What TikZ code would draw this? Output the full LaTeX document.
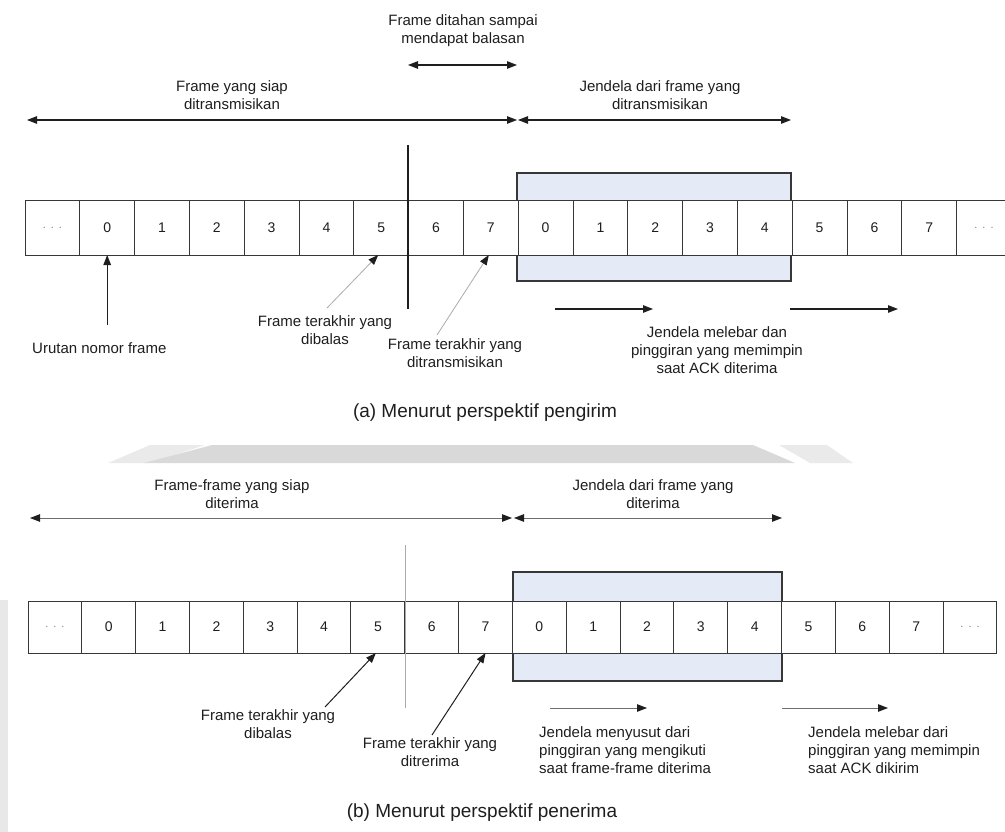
\documentclass[tikz,border=0pt]{standalone}
\usepackage{fontspec}
\setmainfont{Liberation Sans}
\usetikzlibrary{arrows.meta,calc}
\definecolor{winblue}{RGB}{228,235,246}
\definecolor{ink}{RGB}{30,30,30}
\definecolor{edge}{RGB}{55,55,55}
\definecolor{softline}{RGB}{170,170,170}
\definecolor{midline}{RGB}{110,110,110}
\definecolor{bandgrey}{RGB}{217,217,217}
\newcommand{\dotcell}{\textcolor{gray}{\fontsize{11}{12}\selectfont .\hspace{5pt}.\hspace{5pt}.}}
\begin{document}
\begin{tikzpicture}[x=1pt,y=-1pt,
  tip/.style={-{Triangle[length=10pt,width=7.5pt,color=ink]}},
  twotip/.style={{Triangle[length=10pt,width=7.5pt,color=ink]}-{Triangle[length=10pt,width=7.5pt,color=ink]}},
  cellbox/.style={draw=edge,line width=1pt,fill=white,inner sep=0pt,outer sep=0pt,
    font=\fontsize{14}{16}\selectfont,text=ink},
  cellA/.style={cellbox,minimum width=54.8pt,minimum height=54pt},
  cellB/.style={cellbox,minimum width=53.83pt,minimum height=52pt},
  winbox/.style={draw=edge,line width=1.1pt,fill=winblue},
  lbl/.style={inner sep=0pt,align=center,text=ink,font=\fontsize{15}{18}\selectfont},
  lblL/.style={lbl,align=left},
  caption/.style={inner sep=0pt,text=ink,font=\fontsize{19}{22}\selectfont},
  line/.style={line width=1.1pt,draw=ink},
]
\useasboundingbox (0,0) rectangle (1005,832);

% faint background marks
\fill[bandgrey!55] (108,463) -- (150,445) -- (205,445) -- (150,463) -- cycle;
\fill[bandgrey] (144,463) -- (212,445) -- (753,445) -- (795,463) -- cycle;
\fill[bandgrey!55] (779,445) -- (827,445) -- (853,463) -- (810,463) -- cycle;
\fill[bandgrey!60] (0,600) rectangle (8,832);

% ================= (a) sender side =================
\filldraw[winbox] (517,173) rectangle (791,281);
\foreach \lab [count=\i from 0] in {\dotcell,0,1,2,3,4,5,6,7,0,1,2,3,4,5,6,7,\dotcell}
  \node[cellA] (a\i) at ({25+(\i+0.5)*54.8},228) {\lab};

% boundary between acknowledged and outstanding frames
\coordinate (aCutTop) at (408,145);
\coordinate (aCutBot) at (408,309);
\draw[line] (aCutTop) -- (aCutBot);

% spans above the row
\node[lbl] (heldA) at (463,31) {Frame ditahan sampai\\mendapat balasan};
\coordinate (heldL) at (408,65);
\coordinate (heldR) at (517,65);
\draw[line,twotip] (heldL) -- (heldR);

\node[lbl] (readyA) at (232,95) {Frame yang siap\\ditransmisikan};
\coordinate (readyL) at (27,120);
\coordinate (readyR) at (517,120);
\draw[line,twotip] (readyL) -- (readyR);

\node[lbl] (winA) at (660,95) {Jendela dari frame yang\\ditransmisikan};
\coordinate (winAL) at (518,120);
\coordinate (winAR) at (791,120);
\draw[line,twotip] (winAL) -- (winAR);

% pointers below the row
\node[lbl,anchor=west] (seqA) at (32,348) {Urutan nomor frame};
\coordinate (seqS) at (107.2,325);
\draw[line,tip] (seqS) -- (a1.south);

\node[lbl] (ackA) at (325,330) {Frame terakhir yang\\dibalas};
\coordinate (ackS) at (327,308);
\draw[line width=0.8pt,draw=softline,tip] (ackS) -- ([xshift=-3pt]a6.south);

\node[lbl] (sentA) at (455,353) {Frame terakhir yang\\ditransmisikan};
\coordinate (sentS) at (437,335);
\draw[line width=0.8pt,draw=softline,tip] (sentS) -- ([xshift=-2pt]a8.south);

\coordinate (moveA1) at (555,309);
\coordinate (moveA2) at (653,309);
\draw[line,tip] (moveA1) -- (moveA2);
\coordinate (moveA3) at (790,309);
\coordinate (moveA4) at (898,309);
\draw[line,tip] (moveA3) -- (moveA4);
\node[lbl] (growA) at (717,350) {Jendela melebar dan\\pinggiran yang memimpin\\saat ACK diterima};

\node[caption] (capA) at (485,413) {(a) Menurut perspektif pengirim};

% ================= (b) receiver side =================
\filldraw[winbox] (513,572) rectangle (782,681);
\foreach \lab [count=\i from 0] in {\dotcell,0,1,2,3,4,5,6,7,0,1,2,3,4,5,6,7,\dotcell}
  \node[cellB] (b\i) at ({28+(\i+0.5)*53.83},627) {\lab};

\coordinate (bCutTop) at (405,545);
\coordinate (bCutBot) at (405,708);
\draw[line width=1pt,draw=softline] (bCutTop) -- (bCutBot);

\node[lbl] (readyB) at (232,494) {Frame-frame yang siap\\diterima};
\coordinate (readyBL) at (30,518);
\coordinate (readyBR) at (512,518);
\draw[line width=1pt,draw=midline,twotip] (readyBL) -- (readyBR);

\node[lbl] (winB) at (653,494) {Jendela dari frame yang\\diterima};
\coordinate (winBL) at (514,518);
\coordinate (winBR) at (782,518);
\draw[line width=1pt,draw=midline,twotip] (winBL) -- (winBR);

\node[lbl] (ackB) at (268,724) {Frame terakhir yang\\dibalas};
\coordinate (ackBS) at (325,707);
\draw[line width=1pt,draw=ink,tip] (ackBS) -- ([xshift=-2pt]b6.south);

\node[lbl] (recvB) at (430,752) {Frame terakhir yang\\ditrerima};
\coordinate (recvBS) at (432,735);
\draw[line width=1pt,draw=ink,tip] (recvBS) -- (b8.south);

\coordinate (moveB1) at (550,708);
\coordinate (moveB2) at (647,708);
\draw[line width=1pt,draw=midline,tip] (moveB1) -- (moveB2);
\coordinate (moveB3) at (782,708);
\coordinate (moveB4) at (888,708);
\draw[line width=1pt,draw=midline,tip] (moveB3) -- (moveB4);

\node[lblL,anchor=west] (shrinkB) at (539,750) {Jendela menyusut dari\\pinggiran yang mengikuti\\saat frame-frame diterima};
\node[lblL,anchor=west] (growB) at (808,750) {Jendela melebar dari\\pinggiran yang memimpin\\saat ACK dikirim};

\node[caption] (capB) at (482,813) {(b) Menurut perspektif penerima};
\end{tikzpicture}
\end{document}
